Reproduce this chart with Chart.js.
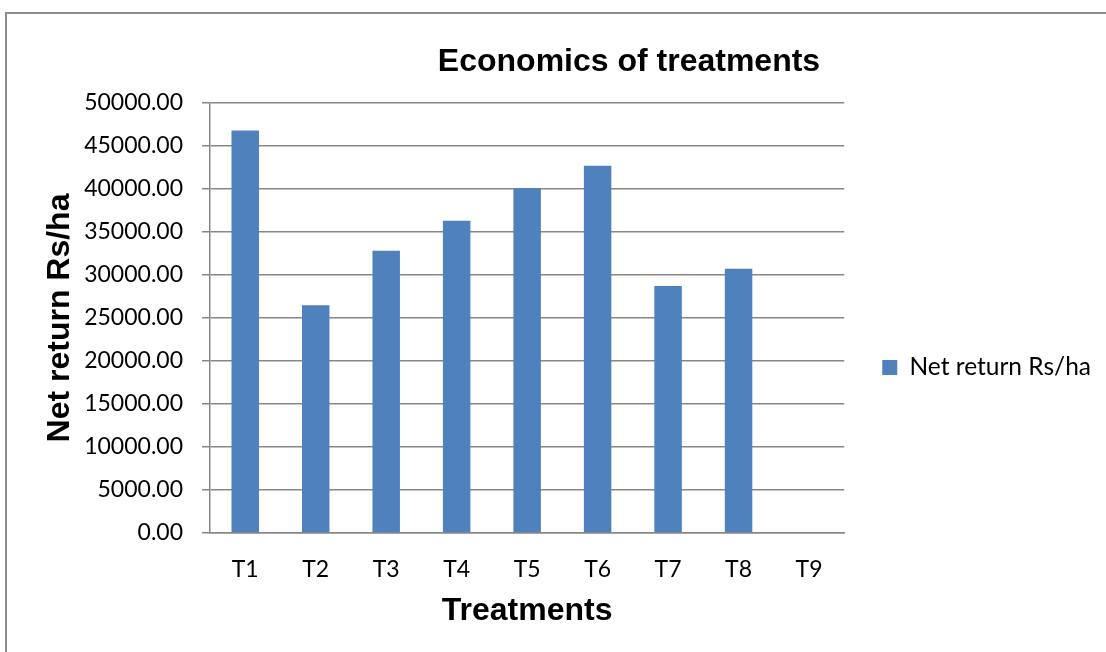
<!DOCTYPE html>
<html>
<head>
<meta charset="utf-8">
<title>Economics of treatments</title>
<script src="https://cdn.jsdelivr.net/npm/chart.js@4.4.1/dist/chart.umd.min.js"></script>
<style>
    html, body {
        margin: 0;
        padding: 0;
        background: #ffffff;
        overflow: hidden;
    }

    #frame {
        position: absolute;
        left: 5px;
        top: 12px;
        width: 1200px;
        height: 700px;
        border: 2px solid #8c8c8c;
    }

    #wrap {
        position: absolute;
        left: 0;
        top: 0;
        width: 1106px;
        height: 652px;
    }
</style>
</head>
<body>
<div id="frame"></div>
<div id="wrap"><canvas id="chart"></canvas></div>
<script>
(function () {
    "use strict";

    var chartTitle = "Economics of treatments";
    var seriesLabel = "Net return Rs/ha";
    var xTitle = "Treatments";
    var yTitle = "Net return Rs/ha";
    var treatments = ["T1", "T2", "T3", "T4", "T5", "T6", "T7", "T8", "T9"];
    var netReturn = [46800, 26480, 32830, 36310, 40120, 42700, 28720, 30740, 0];
    var yMin = 0;
    var yMax = 50000;
    var yStep = 5000;

    var gridGray = "#878787";
    var barBlue = "#4f81bd";

    // title sits off-centre in the original, so it is drawn by hand
    var titlePlugin = {
        id: "offsetTitle",
        afterDraw: function (chart) {
            var ctx = chart.ctx;
            ctx.save();
            ctx.font = "bold 32px 'Liberation Sans', Arial, sans-serif";
            ctx.fillStyle = "#000000";
            ctx.textAlign = "center";
            ctx.textBaseline = "middle";
            ctx.fillText(chartTitle, 629, 62);
            ctx.restore();
        }
    };

    function bootstrap() {
        var canvas = document.getElementById("chart");

        new Chart(canvas.getContext("2d"), {
            type: "bar",
            data: {
                labels: treatments,
                datasets: [{
                    label: seriesLabel,
                    data: netReturn,
                    backgroundColor: barBlue,
                    borderWidth: 0,
                    barPercentage: 0.39,
                    categoryPercentage: 1
                }]
            },
            plugins: [titlePlugin],
            options: {
                responsive: true,
                maintainAspectRatio: false,
                animation: false,
                events: [],
                layout: {
                    padding: {
                        top: 103,
                        bottom: 20,
                        left: 0,
                        right: 5
                    }
                },
                plugins: {
                    title: {
                        display: false
                    },
                    tooltip: {
                        enabled: false
                    },
                    legend: {
                        display: true,
                        position: "right",
                        fullSize: true,
                        labels: {
                            color: "#000000",
                            boxWidth: 15,
                            boxHeight: 15,
                            padding: 38,
                            font: {
                                family: "Lato, 'Open Sans', sans-serif",
                                size: 24.5
                            }
                        }
                    }
                },
                scales: {
                    x: {
                        afterFit: function (scale) {
                            scale.height = 99;
                        },
                        grid: {
                            display: false,
                            drawTicks: false
                        },
                        border: {
                            display: true,
                            color: gridGray,
                            width: 1.5
                        },
                        ticks: {
                            color: "#000000",
                            padding: 23,
                            maxRotation: 0,
                            font: {
                                family: "Lato, 'Open Sans', sans-serif",
                                size: 23
                            }
                        },
                        title: {
                            display: true,
                            text: xTitle,
                            color: "#000000",
                            padding: {
                                top: 10,
                                bottom: 2
                            },
                            font: {
                                family: "'Liberation Sans', Arial, sans-serif",
                                size: 32,
                                weight: "bold"
                            }
                        }
                    },
                    y: {
                        min: yMin,
                        max: yMax,
                        afterFit: function (scale) {
                            scale.width = 210;
                        },
                        grid: {
                            color: gridGray,
                            lineWidth: 1.5,
                            drawTicks: true,
                            tickLength: 8
                        },
                        border: {
                            display: true,
                            color: gridGray,
                            width: 1.5
                        },
                        ticks: {
                            stepSize: yStep,
                            color: "#000000",
                            padding: 19,
                            font: {
                                family: "Lato, 'Open Sans', sans-serif",
                                size: 23
                            },
                            callback: function (value) {
                                return Number(value).toFixed(2);
                            }
                        },
                        title: {
                            display: true,
                            text: yTitle,
                            color: "#000000",
                            padding: {
                                top: 41,
                                bottom: 0
                            },
                            font: {
                                family: "'Liberation Sans', Arial, sans-serif",
                                size: 32,
                                weight: "bold"
                            }
                        }
                    }
                }
            }
        });
    }

    if (document.readyState === "loading") {
        document.addEventListener("DOMContentLoaded", bootstrap);
    } else {
        bootstrap();
    }
})();
</script>
</body>
</html>
